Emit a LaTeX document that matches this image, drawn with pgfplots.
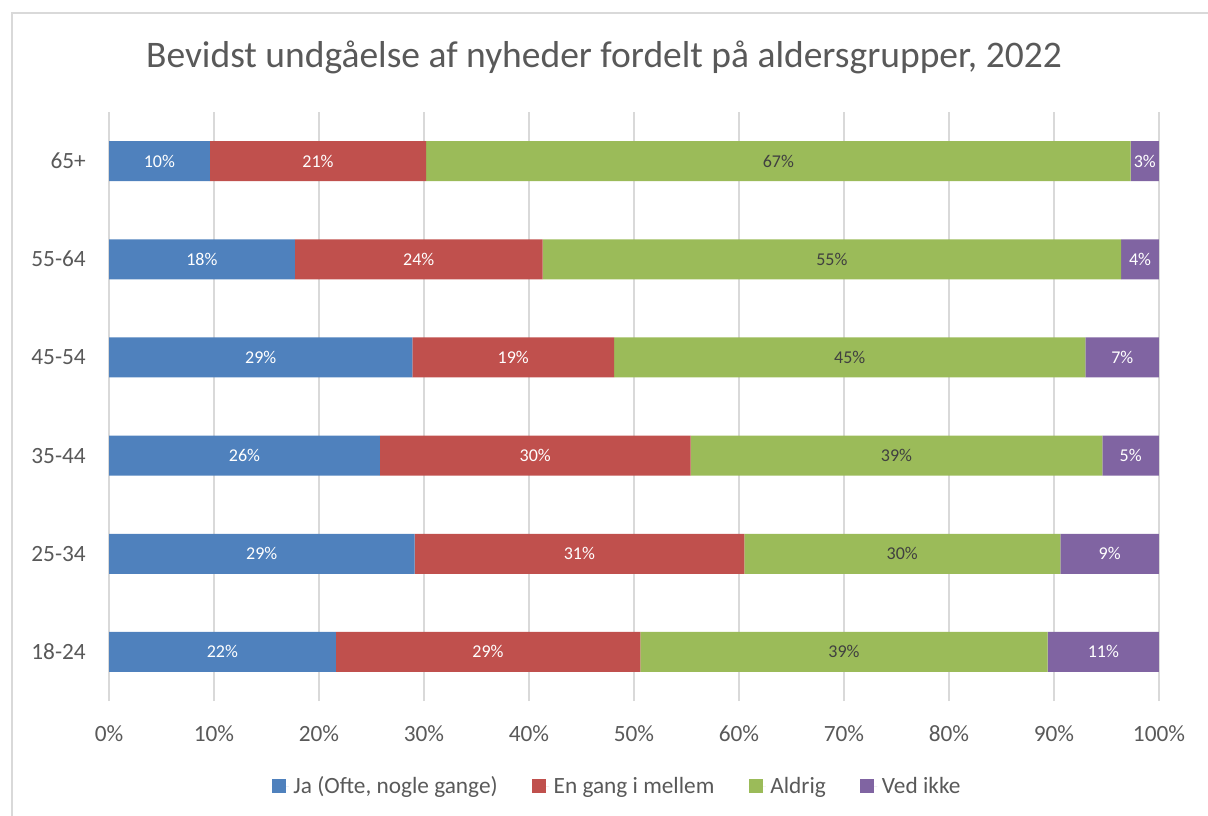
\documentclass[border=0pt]{standalone}
\usepackage{pgfplots}
\pgfplotsset{compat=1.18}
\usepackage{pgfplotstable}
\usepackage{fontspec}
\setmainfont{Carlito}
\definecolor{cblue}{HTML}{4F81BD}
\definecolor{cred}{HTML}{C0504D}
\definecolor{cgreen}{HTML}{9BBB59}
\definecolor{cpurple}{HTML}{8064A2}
\definecolor{ctext}{HTML}{595959}
\definecolor{cdark}{HTML}{404040}
\definecolor{cgrid}{HTML}{D9D9D9}
\pgfplotstableread{
age ja en aldrig ved
0 21.6 29.0 38.8 10.6
1 29.1 31.4 30.1 9.4
2 25.8 29.6 39.2 5.4
3 28.9 19.2 44.9 7.0
4 17.7 23.6 55.1 3.6
5 9.6 20.6 67.1 2.7
}\data
\pgfplotsset{basestyle/.style={
  scale only axis, width=1050pt, height=589pt,
  at={(109pt,114pt)}, anchor=south west,
  xmin=0, xmax=100, ymin=-0.5, ymax=5.5,
}}
\pgfplotsset{lbl/.style={draw=none, mark=none, point meta=explicit,
  nodes near coords={\pgfmathprintnumber[fixed,precision=0,assume math mode=true]{\pgfplotspointmeta}\%},
  nodes near coords align=center,
  every node near coord/.append style={anchor=center, text=#1, font=\fontsize{18}{22}\selectfont}}}
\begin{document}
\begin{tikzpicture}[x=1pt,y=1pt]
\useasboundingbox (0,0) rectangle (1208,815);
\draw[color=cgrid, line width=1.5pt] (12,-5) -- (12,802) -- (1215,802);
\node[anchor=base, text=ctext, font=\fontsize{37.5}{44}\selectfont, inner sep=0pt] at (604,747) {Bevidst undgåelse af nyheder fordelt på aldersgrupper, 2022};
\begin{axis}[basestyle, xbar stacked, bar width=40pt,
  axis line style={draw=none}, major tick length=0pt,
  xmajorgrids, grid style={color=cgrid, line width=1.5pt},
  xtick={0,10,...,100},
  xticklabels={0\%,10\%,20\%,30\%,40\%,50\%,60\%,70\%,80\%,90\%,100\%},
  ytick={0,1,2,3,4,5},
  yticklabels={18-24,25-34,35-44,45-54,55-64,65+},
  ticklabel style={text=ctext, font=\fontsize{23.3}{28}\selectfont, inner sep=0pt},
  xticklabel style={anchor=base, yshift=-40pt},
  yticklabel style={anchor=base east, xshift=-23pt, yshift=-7.5pt},
  legend columns=4,
  legend image code/.code={\fill[#1] (0pt,-7pt) rectangle (14pt,7pt); \path (0pt,0pt) -- (17pt,0pt);},
  legend style={at={(0.4852,0)}, anchor=center, yshift=-85pt, draw=none, fill=none,
    font=\fontsize{23.3}{28}\selectfont, text=ctext,
    nodes={inner sep=4.5pt},
    /tikz/every even column/.append style={column sep=30pt}},
]
\addplot[fill=cblue, draw=none] table[x=ja, y=age] {\data};
\addplot[fill=cred, draw=none] table[x=en, y=age] {\data};
\addplot[fill=cgreen, draw=none] table[x=aldrig, y=age] {\data};
\addplot[fill=cpurple, draw=none] table[x=ved, y=age] {\data};
\legend{{Ja (Ofte, nogle gange)},En gang i mellem,Aldrig,Ved ikke}
\end{axis}
\begin{axis}[basestyle, hide axis]
\addplot[lbl=white] table[x expr=\thisrow{ja}/2, y=age, meta=ja] {\data};
\addplot[lbl=white] table[x expr=\thisrow{ja}+\thisrow{en}/2, y=age, meta=en] {\data};
\addplot[lbl=cdark] table[x expr=\thisrow{ja}+\thisrow{en}+\thisrow{aldrig}/2, y=age, meta=aldrig] {\data};
\addplot[lbl=white] table[x expr=\thisrow{ja}+\thisrow{en}+\thisrow{aldrig}+\thisrow{ved}/2, y=age, meta=ved] {\data};
\end{axis}
\end{tikzpicture}
\end{document}
